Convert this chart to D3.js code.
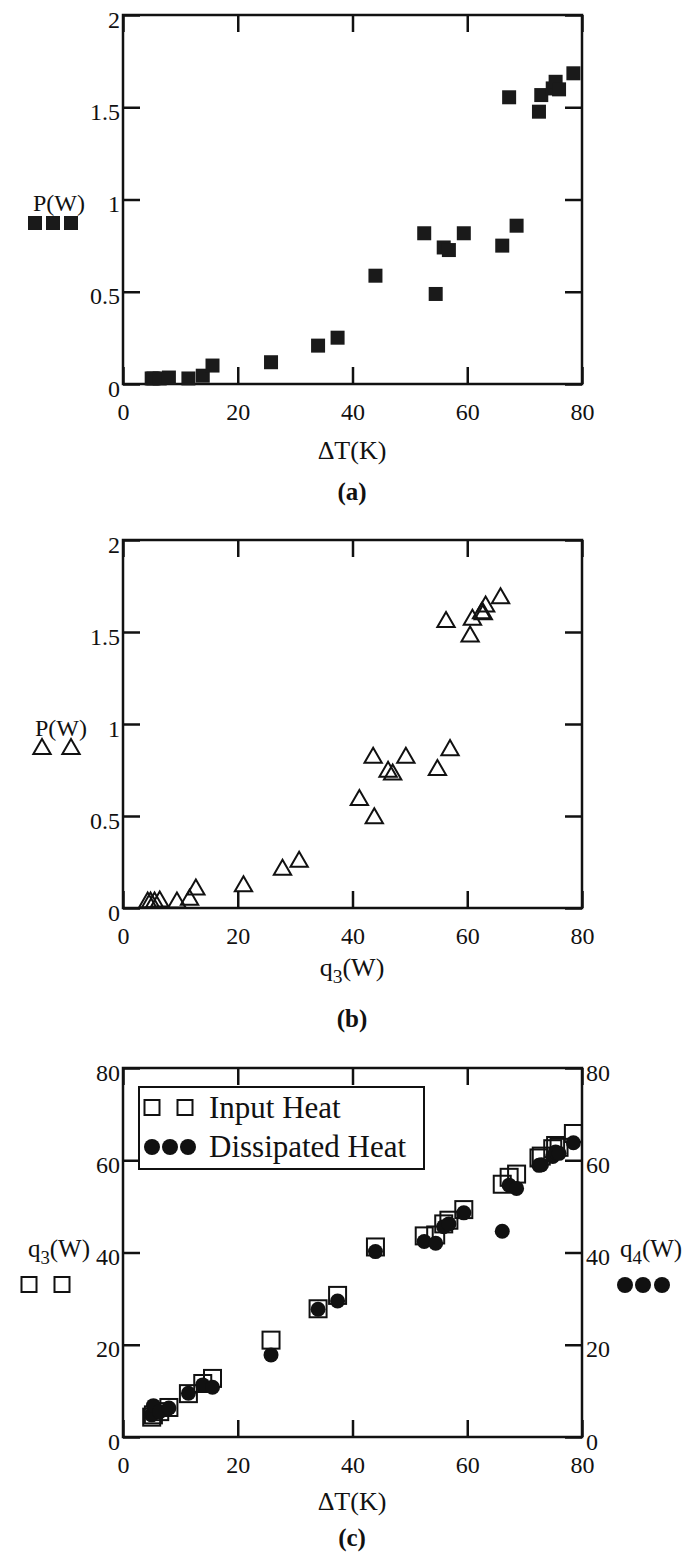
<!DOCTYPE html>
<html lang="en">
<head>
<meta charset="UTF-8">
<title>P, q3, q4 vs dT</title>
<script src="https://d3js.org/d3.v7.min.js"></script>
<style>
    body { margin: 0; background: #fff; }
    svg text { font-family: "Liberation Serif", "DejaVu Serif", serif; fill: #111; }
    .tick line { stroke: #111; stroke-width: 2.5px; }
    .frame { fill: none; stroke: #111; stroke-width: 2.5px; }
</style>
</head>
<body>
<svg id="chart" width="689" height="1555"></svg>
<script>
// measured points, one entry per run
const dT = [5.0, 5.3, 6.4, 8.0, 11.4, 13.9, 15.6, 25.8, 34.0, 37.4, 44.0, 52.5, 54.5, 55.9, 56.8, 59.4, 66.1, 67.3, 68.6, 72.5, 72.9, 74.9, 75.4, 76.0, 78.5];
const P  = [0.03, 0.03, 0.03, 0.035, 0.03, 0.045, 0.10, 0.118, 0.208, 0.251, 0.587, 0.817, 0.488, 0.740, 0.726, 0.817, 0.750, 1.554, 0.858, 1.476, 1.566, 1.602, 1.638, 1.597, 1.684];
const q3 = [4.3, 4.8, 5.5, 6.4, 9.4, 11.6, 12.7, 21.0, 27.8, 30.7, 41.2, 43.6, 43.8, 46.2, 47.0, 49.3, 54.8, 56.3, 57.0, 60.5, 60.9, 62.5, 63.2, 62.8, 65.8];
const q4 = [4.8, 6.8, 5.5, 6.3, 9.5, 11.3, 10.8, 17.8, 27.7, 29.5, 40.2, 42.4, 42.0, 45.6, 46.2, 48.6, 44.6, 54.6, 53.9, 58.9, 59.0, 60.8, 61.8, 61.5, 63.8];

const xTicks = [0, 20, 40, 60, 80];
const pTicks = [0, 0.5, 1, 1.5, 2];
const qTicks = [0, 20, 40, 60, 80];
const legendNames = ["Input Heat", "Dissipated Heat"];

const svg = d3.select("#chart");
const L = 123, R = 582, TICK = 17;

function panel(top, bottom, xDomain, yDomain, yTickVals, rightLabels) {
    const x = d3.scaleLinear().domain(xDomain).range([L, R]);
    const y = d3.scaleLinear().domain(yDomain).range([bottom, top]);
    const g = svg.append("g");
    const fmt = d => String(d);

    const ax = [
        [d3.axisBottom(x).tickValues(xTicks).tickFormat(fmt).tickPadding(19), `translate(0,${bottom})`],
        [d3.axisTop(x).tickValues(xTicks).tickFormat(""), `translate(0,${top})`],
        [d3.axisLeft(y).tickValues(yTickVals).tickFormat(fmt).tickPadding(3), `translate(${L},0)`],
        [rightLabels ? d3.axisRight(y).tickValues(yTickVals).tickFormat(fmt).tickPadding(4)
                     : d3.axisRight(y).tickValues(yTickVals).tickFormat(""), `translate(${R},0)`]
    ];
    ax.forEach(([a, tr], i) => {
        const s = g.append("g").attr("transform", tr)
            .call(a.tickSizeInner(-TICK).tickSizeOuter(0));
        s.select(".domain").remove();
        s.selectAll("text").attr("font-size", 24).style("font-family", "Liberation Serif, serif").attr("fill", "#111");
        if (i >= 2) s.selectAll("text").attr("dy", "0.5em");
    });
    g.append("rect").attr("class", "frame")
        .attr("x", L).attr("y", top).attr("width", R - L).attr("height", bottom - top);
    return { x, y, g };
}

function title(g, x, y, parts, size, anchor) {
    const t = g.append("text").attr("x", x).attr("y", y)
        .attr("font-size", size).attr("text-anchor", anchor || "middle");
    parts.forEach(p => {
        const s = t.append("tspan").text(p.t);
        if (p.sub) s.attr("font-size", size * 0.75).attr("dy", 7);
        if (p.back) s.attr("dy", -7);
    });
    return t;
}

const tri = d3.symbol().type(d3.symbolTriangle).size(130);

// (a) P vs dT
const a = panel(15, 384, [0, 80], [0, 2], pTicks, false);
a.g.selectAll(".pt").data(dT).enter().append("rect")
    .attr("x", (d, i) => a.x(d) - 7).attr("y", (d, i) => a.y(P[i]) - 7)
    .attr("width", 14).attr("height", 14).attr("fill", "#1a1a1a");
title(a.g, 59, 211, [{ t: "P(W)" }], 24);
[35, 53, 71].forEach(cx => a.g.append("rect").attr("x", cx - 7).attr("y", 216)
    .attr("width", 14).attr("height", 14).attr("fill", "#1a1a1a"));
title(a.g, 352, 459, [{ t: "\u0394T(K)" }], 26);
title(a.g, 352, 500, [{ t: "(a)" }], 25).attr("font-weight", "bold");

// (b) P vs q3
const b = panel(540, 908, [0, 80], [0, 2], pTicks, false);
b.g.selectAll(".pt").data(q3).enter().append("path")
    .attr("d", tri)
    .attr("transform", (d, i) => `translate(${b.x(d)},${b.y(P[i])})`)
    .attr("fill", "none").attr("stroke", "#111").attr("stroke-width", 2);
title(b.g, 61, 736, [{ t: "P(W)" }], 24);
[42, 71].forEach(cx => b.g.append("path").attr("d", tri)
    .attr("transform", `translate(${cx},749)`)
    .attr("fill", "none").attr("stroke", "#111").attr("stroke-width", 2));
title(b.g, 352, 976, [{ t: "q" }, { t: "3", sub: true }, { t: "(W)", back: true }], 26);
title(b.g, 352, 1027, [{ t: "(b)" }], 25).attr("font-weight", "bold");

// (c) q3, q4 vs dT
const c = panel(1068, 1437, [0, 80], [0, 80], qTicks, true);
c.g.selectAll(".sq").data(dT).enter().append("rect")
    .attr("x", d => c.x(d) - 8.5).attr("y", (d, i) => c.y(q3[i]) - 8.5)
    .attr("width", 17).attr("height", 17)
    .attr("fill", "none").attr("stroke", "#111").attr("stroke-width", 2);
c.g.selectAll(".ci").data(dT).enter().append("circle")
    .attr("cx", d => c.x(d)).attr("cy", (d, i) => c.y(q4[i]))
    .attr("r", 7.5).attr("fill", "#111");

// legend
c.g.append("rect").attr("x", 139).attr("y", 1087).attr("width", 285).attr("height", 82)
    .attr("fill", "#fff").attr("stroke", "#111").attr("stroke-width", 2);
[152, 185].forEach(cx => c.g.append("rect").attr("x", cx - 7.5).attr("y", 1100)
    .attr("width", 15).attr("height", 15).attr("fill", "none").attr("stroke", "#111").attr("stroke-width", 2));
[152, 170, 188].forEach(cx => c.g.append("circle").attr("cx", cx).attr("cy", 1147)
    .attr("r", 8).attr("fill", "#111"));
legendNames.forEach((n, i) => title(c.g, 209, 1118 + i * 39, [{ t: n }], 31, "start"));

title(c.g, 90, 1257, [{ t: "q" }, { t: "3", sub: true }, { t: "(W)", back: true }], 25, "end");
[29, 62].forEach(cx => c.g.append("rect").attr("x", cx - 7.5).attr("y", 1277)
    .attr("width", 15).attr("height", 15).attr("fill", "none").attr("stroke", "#111").attr("stroke-width", 2));
title(c.g, 620, 1257, [{ t: "q" }, { t: "4", sub: true }, { t: "(W)", back: true }], 25, "start");
[625, 643, 662].forEach(cx => c.g.append("circle").attr("cx", cx).attr("cy", 1285)
    .attr("r", 8).attr("fill", "#111"));
title(c.g, 352, 1510, [{ t: "\u0394T(K)" }], 26);
title(c.g, 352, 1546, [{ t: "(c)" }], 25).attr("font-weight", "bold");
</script>
</body>
</html>
